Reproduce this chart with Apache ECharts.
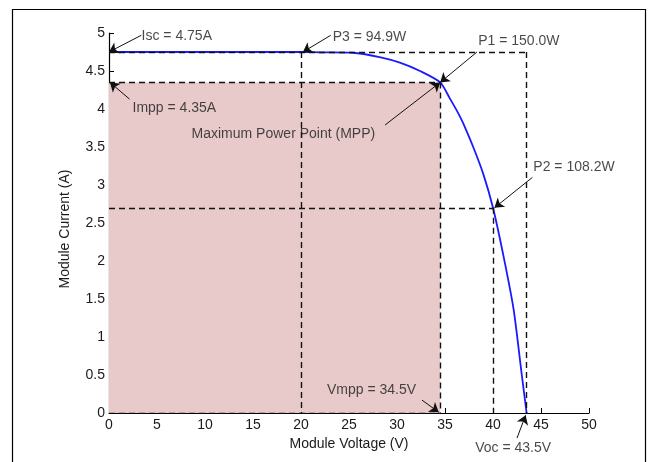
<!DOCTYPE html>
<html>
<head>
<meta charset="utf-8">
<script src="https://cdn.jsdelivr.net/npm/echarts@6/dist/echarts.min.js"></script>
<style>
html, body { margin: 0; padding: 0; background: #fff; }
#chart { width: 651px; height: 462px; }
</style>
</head>
<body>
<div id="chart"></div>
<script>
// I-V curve
var voltage = [0, 5, 10, 15, 20, 22, 25.4, 28.3, 30.3, 32.4, 34.5, 35.5, 36.4, 36.9, 38.0, 39.0, 40.0, 41.1, 42.15, 43.0, 43.5];
var current = [4.75, 4.75, 4.75, 4.75, 4.75, 4.745, 4.74, 4.68, 4.61, 4.50, 4.35, 4.14, 3.94, 3.81, 3.48, 3.14, 2.70, 2.06, 1.36, 0.50, 0];

// key points
var isc = 4.75, voc = 43.5;
var impp = 4.35, vmpp = 34.5;
var p2V = 40, p2I = 2.7;
var p3V = 20;

var xTicks = [0, 50, 5];
var yTicks = [0, 5, 0.5];

// annotation texts, [text, x, y] where x/y is the left-middle of the text
var notes = [
    ['Isc = 4.75A', 3.39, 4.96],
    ['Impp = 4.35A', 2.45, 4.01],
    ['Maximum Power Point (MPP)', 8.6, 3.67],
    ['P1 = 150.0W', 38.46, 4.89],
    ['P3 = 94.9W', 23.3, 4.95],
    ['P2 = 108.2W', 44.2, 3.23],
    ['Vmpp = 34.5V', 22.7, 0.30],
    ['Voc = 43.5V', 38.15, -0.46]
];

// arrows: tail -> tip
var arrows = [
    [[3.36, 4.97], [0, isc]],
    [[2.14, 4.13], [0.1, impp]],
    [[28.76, 3.79], [vmpp, impp]],
    [[38.33, 4.75], [vmpp, impp]],
    [[23.1, 4.97], [p3V + 0.2, isc]],
    [[44.1, 3.10], [p2V + 0.15, p2I]],
    [[32.6, 0.17], [vmpp - 0.15, 0.01]],
    [[42.5, -0.33], [voc - 0.1, -0.03]]
];

var dashed = [
    [[0, isc], [voc, isc]],
    [[voc, isc], [voc, 0]],
    [[0, impp], [vmpp, impp]],
    [[vmpp, impp], [vmpp, 0]],
    [[0, 0], [vmpp, 0]],
    [[p3V, isc], [p3V, 0]],
    [[0, p2I], [p2V, p2I]],
    [[p2V, p2I], [p2V, 0]]
];

var curve = [];
for (var i = 0; i < voltage.length; i++) {
    curve.push([voltage[i], current[i]]);
}

var font = 'Liberation Sans, Arial, sans-serif';
var fs = 14;
var myChart = echarts.init(document.getElementById('chart'));
myChart.setOption({
    animation: false,
    grid: {left: 109, right: 62, top: 33, bottom: 49},
    xAxis: {
        type: 'value',
        min: xTicks[0], max: xTicks[1], interval: xTicks[2],
        name: 'Module Voltage (V)',
        nameLocation: 'middle',
        nameGap: 23,
        nameTextStyle: {color: '#1a1a1a', fontSize: fs, fontFamily: font},
        axisLine: {lineStyle: {color: '#000', width: 1.2}},
        axisTick: {inside: true, length: 5, lineStyle: {color: '#000'}},
        axisLabel: {color: '#1a1a1a', fontSize: fs, fontFamily: font, margin: 5},
        splitLine: {show: false}
    },
    yAxis: {
        type: 'value',
        min: yTicks[0], max: yTicks[1], interval: yTicks[2],
        name: 'Module Current (A)',
        nameLocation: 'middle',
        nameGap: 37,
        nameTextStyle: {color: '#1a1a1a', fontSize: fs, fontFamily: font, padding: [0, 12, 0, 0]},
        axisLine: {show: true, lineStyle: {color: '#000', width: 1.2}},
        axisTick: {show: true, inside: true, length: 5, lineStyle: {color: '#000'}},
        axisLabel: {color: '#1a1a1a', fontSize: fs, fontFamily: font, margin: 4},
        splitLine: {show: false}
    },
    graphic: [{
        type: 'rect',
        shape: {x: 12.5, y: 9.5, width: 633, height: 470},
        style: {fill: 'none', stroke: '#000', lineWidth: 1.2},
        silent: true
    }],
    series: [
        {
            type: 'line',
            data: [],
            markArea: {
                silent: true,
                itemStyle: {color: '#e8caca'},
                data: [[{coord: [0, 0]}, {coord: [vmpp, impp]}]]
            }
        },
        {
            type: 'line',
            data: curve,
            showSymbol: false,
            smooth: 0.25,
            lineStyle: {color: '#1a1aff', width: 1.8},
            z: 3
        },
        {
            type: 'lines',
            coordinateSystem: 'cartesian2d',
            data: dashed.map(function (d) { return {coords: d}; }),
            lineStyle: {color: '#111', width: 1.4, type: [6, 4], opacity: 1},
            z: 4
        },
        {
            type: 'lines',
            coordinateSystem: 'cartesian2d',
            clip: false,
            symbol: ['none', 'arrow'],
            symbolSize: [0, 9],
            data: arrows.map(function (d) { return {coords: d}; }),
            lineStyle: {color: '#111', width: 1, opacity: 1},
            z: 5
        },
        {
            type: 'scatter',
            clip: false,
            symbolSize: 0,
            data: notes.map(function (n) { return {name: n[0], value: [n[1], n[2]]}; }),
            label: {
                show: true,
                position: 'right',
                distance: 0,
                formatter: '{b}',
                color: '#1a1a1a',
                fontSize: fs,
                fontFamily: font
            },
            z: 6
        }
    ]
});
</script>
</body>
</html>
